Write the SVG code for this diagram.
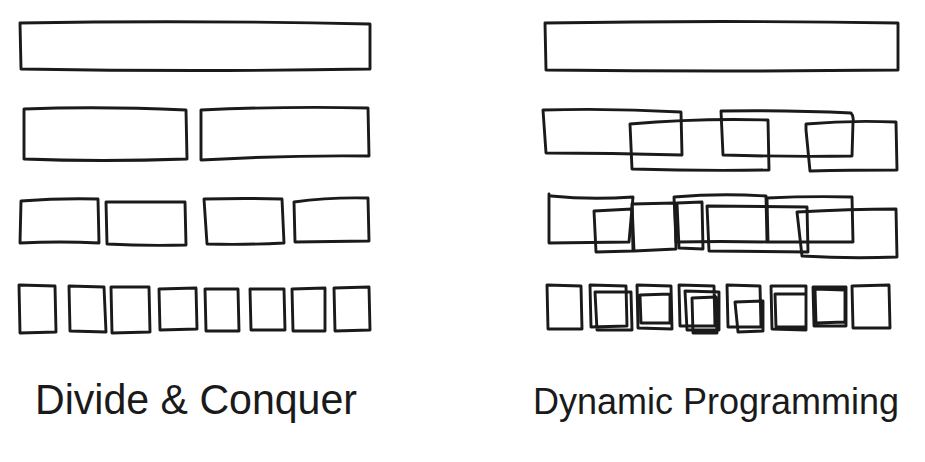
<svg xmlns="http://www.w3.org/2000/svg" width="925" height="462" viewBox="0 0 925 462">
<style>
.b{fill:none;stroke:#1a1a1a;stroke-width:2.9;stroke-linejoin:round;stroke-linecap:round}
.t{font-family:"Liberation Sans","DejaVu Sans",sans-serif;font-size:42px;fill:#1a1a1a;font-weight:normal}
.t2{font-family:"Liberation Sans","DejaVu Sans",sans-serif;font-size:36px;fill:#1a1a1a;font-weight:normal}
</style>
<rect width="925" height="462" fill="#ffffff"/>
<g id="connectors"/>
<g id="dc">
  <g id="dc-r1"><path class="b" d="M20 23 Q190 20 370 24 L370 69 Q200 72 21 69 Z"/></g>
  <g id="dc-r2a"><path class="b" d="M24 109 Q100 106 186 110 L187 159 Q100 162 24 159 Z"/></g>
  <g id="dc-r2b"><path class="b" d="M201 110 Q290 106 368 108 L369 156 Q290 155 201 160 Z"/></g>
  <g id="dc-r3a"><path class="b" d="M21 201 Q60 198 98 199 L99 243 Q60 241 20 243 Z"/></g>
  <g id="dc-r3b"><path class="b" d="M106 202 L185 202 L186 245 Q145 246 107 244 Z"/></g>
  <g id="dc-r3c"><path class="b" d="M204 199 Q245 198 282 199 L284 243 Q245 245 207 244 Z"/></g>
  <g id="dc-r3d"><path class="b" d="M294 202 Q330 197 368 198 L369 241 L295 242 Z"/></g>
  <g id="dc-s1"><path class="b" d="M19 285 L55 286 L56 332 L20 333 Z"/></g>
  <g id="dc-s2"><path class="b" d="M69 286 L104 287 L106 332 L70 331 Z"/></g>
  <g id="dc-s3"><path class="b" d="M111 287 L149 287 L150 332 L112 333 Z"/></g>
  <g id="dc-s4"><path class="b" d="M159 289 L196 288 L197 329 L160 330 Z"/></g>
  <g id="dc-s5"><path class="b" d="M205 289 L238 289 L239 331 L206 331 Z"/></g>
  <g id="dc-s6"><path class="b" d="M250 289 L284 289 L285 330 L251 330 Z"/></g>
  <g id="dc-s7"><path class="b" d="M292 289 L325 288 L325 331 L293 331 Z"/></g>
  <g id="dc-s8"><path class="b" d="M334 288 L369 287 L370 330 L335 331 Z"/></g>
</g>
<g id="dp">
  <g id="dp-r1"><path class="b" d="M545 23 Q720 20 898 23 L898 70 Q720 72 546 70 Z"/></g>
  <g id="dp-r2a"><path class="b" d="M543 110 Q610 108 681 112 L682 155 Q610 153 546 153 Z"/></g>
  <g id="dp-r2b"><path class="b" d="M630 124 Q700 118 768 120 L769 170 Q700 171 632 169 Z"/></g>
  <g id="dp-r2c"><path class="b" d="M721 111 Q790 110 851 113 Q854 116 853 122 L852 156 Q790 157 723 155 Z"/></g>
  <g id="dp-r2d"><path class="b" d="M806 124 Q850 120 896 122 L897 170 Q850 170 810 171 L806 130 Z"/></g>
  <g id="dp-r3a"><path class="b" d="M549 194 L549 243 L629 242 L633 197 Q590 200 551 196"/></g>
  <g id="dp-r3b"><path class="b" d="M594 211 L632 209 L633 251 L596 252 Z"/></g>
  <g id="dp-r3c"><path class="b" d="M632 204 L675 203 L676 249 L634 251 Z"/></g>
  <g id="dp-r3d"><path class="b" d="M677 203 L702 202 L703 249 L679 248 Z"/></g>
  <g id="dp-r3e"><path class="b" d="M674 197 Q720 193 766 196 L767 242 Q720 241 676 242 Z"/></g>
  <g id="dp-r3f"><path class="b" d="M707 206 L807 207 L808 252 L709 251 Z"/></g>
  <g id="dp-r3g"><path class="b" d="M767 198 Q810 196 852 197 L853 242 L768 242 Z"/></g>
  <g id="dp-r3h"><path class="b" d="M797 212 Q850 209 896 209 L897 257 Q850 259 802 256 Z"/></g>
  <g id="dp-s1"><path class="b" d="M547 285 L581 286 L582 329 L548 329 Z"/></g>
  <g id="dp-s2"><path class="b" d="M590 285 L626 286 L627 326 L591 327 Z M595 292 L631 292 L632 330 L597 330 Z"/></g>
  <g id="dp-s3"><path class="b" d="M637 285 L671 286 L672 329 L638 328 Z M640 295 L670 294 L670 323 L641 323 Z"/></g>
  <g id="dp-s4"><path class="b" d="M679 285 L714 286 L715 326 L680 326 Z M685 291 L719 292 L719 330 L687 330 Z M692 298 L716 297 L717 333 L693 333 Z"/></g>
  <g id="dp-s5"><path class="b" d="M727 285 L760 286 L761 327 L728 327 Z M735 302 L763 301 L763 331 L738 332 Z"/></g>
  <g id="dp-s6"><path class="b" d="M771 286 L806 286 L806 330 L772 329 Z M775 294 L806 294 L806 327 L776 327 Z"/></g>
  <g id="dp-s7"><path class="b" d="M813 287 L846 287 L846 326 L814 326 Z M815 289 L845 290 L845 322 L816 323 Z"/></g>
  <g id="dp-s8"><path class="b" d="M852 286 L889 285 L890 328 L853 328 Z"/></g>
</g>
<g id="labels">
  <text class="t" x="35" y="414" textLength="322" lengthAdjust="spacingAndGlyphs">Divide &amp; Conquer</text>
  <text class="t2" x="533" y="414">Dynamic Programming</text>
</g>
</svg>
